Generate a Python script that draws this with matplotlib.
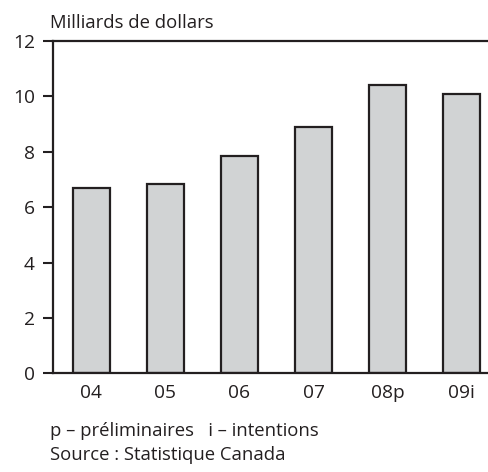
import matplotlib
matplotlib.use("Agg")
import matplotlib.pyplot as plt

categories = ["04", "05", "06", "07", "08p", "09i"]
values = [6.7, 6.85, 7.85, 8.9, 10.4, 10.1]
yticks = [0, 2, 4, 6, 8, 10, 12]

plt.rcParams['font.family'] = ['Open Sans', 'DejaVu Sans']

fig = plt.figure(figsize=(4.89, 4.72), dpi=100)
W, H = 489, 472
ax = fig.add_axes([53 / W, 1 - 373.3 / H, (489 - 53) / W, (373.3 - 41) / H])

x = list(range(len(categories)))
ax.bar(x, values, width=0.5, color="#d1d3d4", edgecolor="#231f20", linewidth=1.6, zorder=2)

ax.set_xlim(-0.518, 5.37)
ax.set_ylim(0, 12)
ax.set_yticks(yticks)
ax.set_yticklabels([str(t) for t in yticks], fontsize=13.8, color="#231f20")
ax.set_xticks(x)
ax.set_xticklabels(categories, fontsize=13.8, color="#231f20")
ax.tick_params(axis='y', length=7, width=1.5, pad=6, color="#231f20")
ax.tick_params(axis='x', length=0, pad=8)

for s in ["left", "top", "bottom"]:
    ax.spines[s].set_linewidth(1.6)
    ax.spines[s].set_color("#231f20")
ax.spines["right"].set_visible(False)

fig.text(50 / W, 1 - 23 / H, "Milliards de dollars", fontsize=13.3, color="#231f20", va="center", ha="left")
fig.text(50 / W, 1 - 431 / H, "p – préliminaires   i – intentions", fontsize=13.3, color="#231f20", va="center", ha="left")
fig.text(50 / W, 1 - 455 / H, "Source : Statistique Canada", fontsize=13.3, color="#231f20", va="center", ha="left")

fig.savefig("out.png", dpi=100)
